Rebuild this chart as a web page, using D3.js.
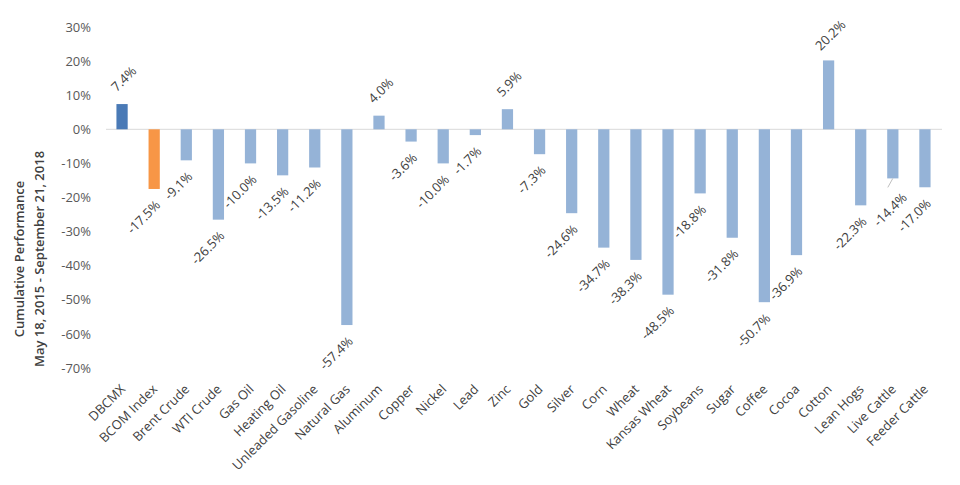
<!DOCTYPE html>
<html lang="en">
<head>
    <meta charset="utf8">
    <script type="text/javascript" src="https://d3js.org/d3.v7.min.js"></script>
    <title>Cumulative Performance</title>
    <style>
        body { margin: 0; background: #fff; }
        text { font-family: "Open Sans", "Liberation Sans", sans-serif; }
    </style>
</head>
<body>
    <div class="chart"></div>
</body>
<script type="text/javascript">
    // data
    var categories = ["DBCMX", "BCOM Index", "Brent Crude", "WTI Crude", "Gas Oil", "Heating Oil",
        "Unleaded Gasoline", "Natural Gas", "Aluminum", "Copper", "Nickel", "Lead", "Zinc", "Gold",
        "Silver", "Corn", "Wheat", "Kansas Wheat", "Soybeans", "Sugar", "Coffee", "Cocoa", "Cotton",
        "Lean Hogs", "Live Cattle", "Feeder Cattle"];
    var values = [7.4, -17.5, -9.1, -26.5, -10.0, -13.5, -11.2, -57.4, 4.0, -3.6, -10.0, -1.7, 5.9,
        -7.3, -24.6, -34.7, -38.3, -48.5, -18.8, -31.8, -50.7, -36.9, 20.2, -22.3, -14.4, -17.0];
    var yTicks = [30, 20, 10, 0, -10, -20, -30, -40, -50, -60, -70];
    var titleLines = ["Cumulative Performance", "May 18, 2015 - September 21, 2018"];

    var width = 960, height = 485;
    var svg = d3.select("body div.chart")
        .append("svg")
        .attr("width", width)
        .attr("height", height);

    // scales
    var x = d3.scaleBand()
        .domain(categories)
        .range([106, 941])
        .paddingInner(0.65)
        .paddingOuter(0.325);
    var y = d3.scaleLinear()
        .domain([-70, 30])
        .range([368, 27]);

    function barColor(i) {
        if (i === 0) return "#4a7ab6";
        if (i === 1) return "#f79646";
        return "#95b3d7";
    }

    // y axis (labels only)
    var yAxis = svg.append("g")
        .attr("transform", "translate(106,0)")
        .call(d3.axisLeft(y).tickValues(yTicks).tickSize(0).tickPadding(15)
            .tickFormat(function(d){ return d + "%"; }));
    yAxis.select(".domain").remove();
    yAxis.selectAll("text")
        .style("font-family", "'Open Sans', sans-serif")
        .style("font-size", "13px")
        .attr("fill", "#595959");

    // zero line
    svg.append("line")
        .attr("x1", 106).attr("x2", 942)
        .attr("y1", y(0)).attr("y2", y(0))
        .attr("stroke", "#d9d9d9")
        .attr("stroke-width", 1);

    // bars
    var rows = categories.map(function(c, i){ return {name: c, value: values[i], i: i}; });
    svg.append("g").selectAll("rect")
        .data(rows)
        .enter()
        .append("rect")
        .attr("x", function(d){ return x(d.name); })
        .attr("width", x.bandwidth())
        .attr("y", function(d){ return d.value >= 0 ? y(d.value) : y(0); })
        .attr("height", function(d){ return Math.abs(y(d.value) - y(0)); })
        .attr("fill", function(d){ return barColor(d.i); });

    // value labels
    var nudge = {"Live Cattle": [8, 3]};
    var labels = svg.append("g")
        .attr("font-size", "13px")
        .attr("fill", "#404040");
    rows.forEach(function(d){
        var cx = x(d.name) + x.bandwidth() / 2;
        var n = nudge[d.name] || [0, 0];
        var txt = d.value.toFixed(1) + "%";
        if (d.value >= 0) {
            labels.append("text")
                .attr("text-anchor", "middle")
                .attr("transform", "translate(" + (cx + 5) + "," + (y(d.value) - 22) + ") rotate(-45)")
                .text(txt);
        } else {
            var yb = y(d.value);
            labels.append("text")
                .attr("text-anchor", "end")
                .attr("transform", "translate(" + (cx + 7 + n[0]) + "," + (yb + 17 + n[1]) + ") rotate(-45)")
                .text(txt);
            if (n[0] !== 0) {
                // leader line for moved label
                svg.append("line")
                    .attr("x1", cx).attr("y1", yb)
                    .attr("x2", cx - 5).attr("y2", yb + 9)
                    .attr("stroke", "#bfbfbf")
                    .attr("stroke-width", 1);
            }
        }
    });

    // category labels
    svg.append("g")
        .attr("font-size", "13px")
        .attr("fill", "#404040")
        .selectAll("text")
        .data(categories)
        .enter()
        .append("text")
        .attr("text-anchor", "end")
        .attr("transform", function(d){
            return "translate(" + (x(d) + x.bandwidth() / 2 + 4) + ",390) rotate(-45)";
        })
        .text(function(d){ return d; });

    // axis title
    var title = svg.append("text")
        .attr("transform", "translate(0,259) rotate(-90)")
        .attr("text-anchor", "middle")
        .attr("font-size", "13px")
        .attr("font-weight", 600)
        .attr("fill", "#404040");
    title.append("tspan").attr("x", 0).attr("y", 24).text(titleLines[0]);
    title.append("tspan").attr("x", 0).attr("y", 44).text(titleLines[1]);
</script>
</html>
